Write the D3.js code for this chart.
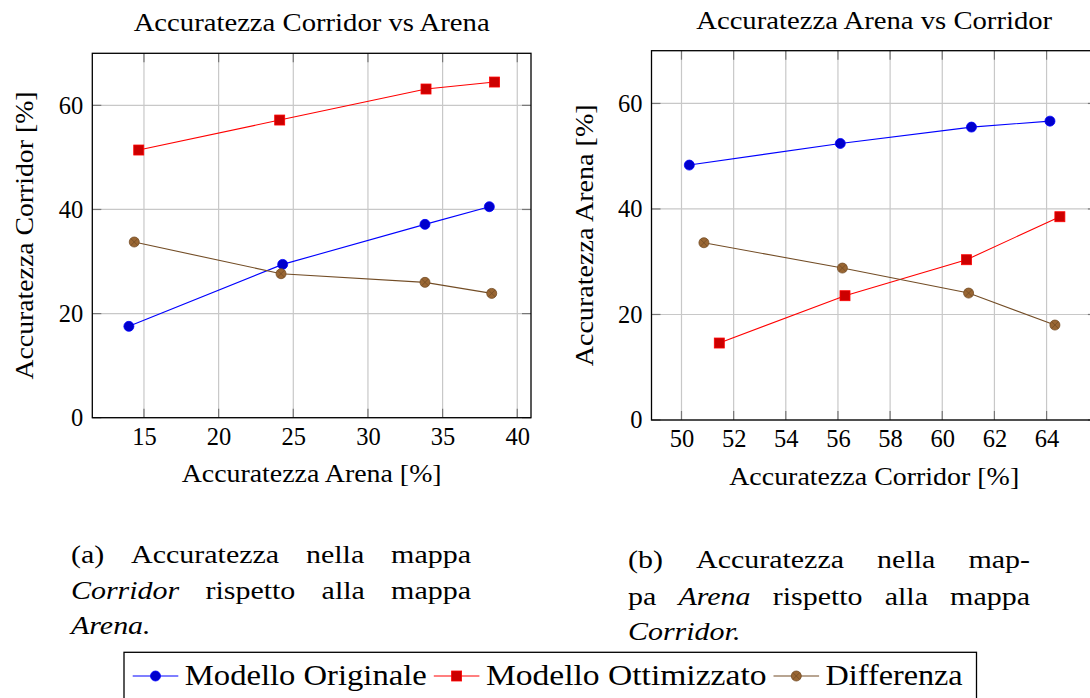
<!DOCTYPE html>
<html>
<head>
<meta charset="utf-8">
<script src="https://cdn.jsdelivr.net/npm/d3@7"></script>
<style>
  body { margin: 0; background: #fff; }
  svg { display: block; }
</style>
</head>
<body>
<svg width="1090" height="698"></svg>
<script>
// --- data ---
const seriesNames = ["Modello Originale", "Modello Ottimizzato", "Differenza"];

// (a) Corridor vs Arena
const aOrigX = [13.99, 24.29, 33.82, 38.13];
const aOrigY = [17.55, 29.45, 37.14, 40.53];
const aOptX  = [14.65, 24.09, 33.89, 38.48];
const aOptY  = [51.42, 57.18, 63.14, 64.48];
const aDiffX = [14.35, 24.18, 33.82, 38.29];
const aDiffY = [33.75, 27.66, 26.00, 23.88];
const aTicksX = [15, 20, 25, 30, 35, 40];

// (b) Arena vs Corridor
const bOrigX = [50.30, 56.09, 61.12, 64.13];
const bOrigY = [48.32, 52.42, 55.52, 56.65];
const bOptX  = [51.45, 56.27, 60.93, 64.51];
const bOptY  = [14.59, 23.56, 30.38, 38.53];
const bDiffX = [50.86, 56.17, 61.01, 64.32];
const bDiffY = [33.60, 28.80, 24.06, 18.00];
const bTicksX = [50, 52, 54, 56, 58, 60, 62, 64];

const yTicks = [0, 20, 40, 60];

const svg = d3.select('svg');

// pick the first serif face that is really installed
function hasFont(name) {
  const t = svg.append('text').attr('font-size', 40).text('mmmwwwiiilll AaQg 0123');
  t.attr('font-family', 'monospace');
  const a = t.node().getComputedTextLength();
  t.attr('font-family', `"${name}", monospace`);
  const b = t.node().getComputedTextLength();
  t.remove();
  return Math.abs(a - b) > 0.5;
}
const serifCandidates = ['Liberation Serif', 'DejaVu Serif', 'Tinos', 'Nimbus Roman', 'FreeSerif', 'Noto Serif', 'Times New Roman'];
const found = serifCandidates.find(hasFont);
const FONT = found ? `"${found}", serif` : 'serif';

const styles = [
  {line: '#0000ff', fill: '#0000cc', stroke: '#0000ff', mark: 'circle'},
  {line: '#ff0000', fill: '#cc0000', stroke: '#ff0000', mark: 'square'},
  {line: '#734d26', fill: '#996633', stroke: '#734d26', mark: 'otimes'}
];

function zip(xs, ys) { return xs.map((v, i) => [v, ys[i]]); }

function drawMark(g, st, cx, cy) {
  if (st.mark === 'circle') {
    g.append('circle').attr('cx', cx).attr('cy', cy).attr('r', 5)
      .attr('fill', st.fill).attr('stroke', st.stroke).attr('stroke-width', 0.8);
  } else if (st.mark === 'square') {
    g.append('rect').attr('x', cx - 5).attr('y', cy - 5).attr('width', 10).attr('height', 10)
      .attr('fill', st.fill).attr('stroke', st.stroke).attr('stroke-width', 0.8);
  } else {
    g.append('circle').attr('cx', cx).attr('cy', cy).attr('r', 5)
      .attr('fill', st.fill).attr('stroke', st.stroke).attr('stroke-width', 0.8);
    const d = 3.5;
    g.append('path')
      .attr('d', `M${cx - d},${cy - d}L${cx + d},${cy + d}M${cx - d},${cy + d}L${cx + d},${cy - d}`)
      .attr('stroke', st.stroke).attr('stroke-width', 0.8);
  }
}

function txt(sel) { return sel.attr('font-family', FONT).attr('fill', '#000'); }

function panel(o) {
  const x = d3.scaleLinear().domain(o.xDomain).range([o.left, o.right]);
  const y = d3.scaleLinear().domain([0, 70]).range([o.bottom, o.top]);
  const g = svg.append('g');

  // grid
  g.append('g').selectAll('line').data(o.xTicks).join('line')
    .attr('x1', d => x(d)).attr('x2', d => x(d))
    .attr('y1', o.top).attr('y2', o.bottom)
    .attr('stroke', '#c8c8c8').attr('stroke-width', 1.2);
  g.append('g').selectAll('line').data(yTicks).join('line')
    .attr('y1', d => y(d)).attr('y2', d => y(d))
    .attr('x1', o.left).attr('x2', o.right)
    .attr('stroke', '#c8c8c8').attr('stroke-width', 1.2);

  // inner ticks on all four sides
  const tl = 9;
  const tk = g.append('g').attr('stroke', '#777').attr('stroke-width', 1.2);
  o.xTicks.forEach(d => {
    tk.append('line').attr('x1', x(d)).attr('x2', x(d)).attr('y1', o.bottom).attr('y2', o.bottom - tl);
    tk.append('line').attr('x1', x(d)).attr('x2', x(d)).attr('y1', o.top).attr('y2', o.top + tl);
  });
  yTicks.forEach(d => {
    tk.append('line').attr('y1', y(d)).attr('y2', y(d)).attr('x1', o.left).attr('x2', o.left + tl);
    tk.append('line').attr('y1', y(d)).attr('y2', y(d)).attr('x1', o.right).attr('x2', o.right - tl);
  });

  // tick labels via d3 axes
  const ax = g.append('g').attr('transform', `translate(0,${o.bottom})`)
    .call(d3.axisBottom(x).tickValues(o.xTicks).tickSize(0).tickPadding(10));
  const ay = g.append('g').attr('transform', `translate(${o.left},0)`)
    .call(d3.axisLeft(y).tickValues(yTicks).tickSize(0).tickPadding(9));
  [ax, ay].forEach(a => {
    a.attr('font-family', FONT);
    a.select('.domain').remove();
    txt(a.selectAll('text')).attr('font-size', 24.5);
  });

  // frame
  g.append('rect').attr('x', o.left).attr('y', o.top)
    .attr('width', o.right - o.left).attr('height', o.bottom - o.top)
    .attr('fill', 'none').attr('stroke', '#000').attr('stroke-width', 1.3);

  // series
  const line = d3.line().x(d => x(d[0])).y(d => y(d[1]));
  o.series.forEach((pts, i) => {
    const st = styles[i];
    g.append('path').datum(pts).attr('d', line)
      .attr('fill', 'none').attr('stroke', st.line).attr('stroke-width', 1.1);
    const mg = g.append('g');
    pts.forEach(p => drawMark(mg, st, x(p[0]), y(p[1])));
  });

  const cx = (o.left + o.right) / 2, cy = (o.top + o.bottom) / 2;
  txt(g.append('text')).attr('x', cx).attr('y', o.top - 22).attr('text-anchor', 'middle')
    .attr('font-size', 25).attr('textLength', o.titleW).attr('lengthAdjust', 'spacingAndGlyphs')
    .text(o.title);
  txt(g.append('text')).attr('x', cx).attr('y', o.bottom + 64.5).attr('text-anchor', 'middle')
    .attr('font-size', 25).attr('textLength', o.xLabelW).attr('lengthAdjust', 'spacingAndGlyphs')
    .text(o.xLabel);
  txt(g.append('text')).attr('transform', `translate(${o.left - 59},${cy}) rotate(-90)`)
    .attr('text-anchor', 'middle')
    .attr('font-size', 25).attr('textLength', o.yLabelW).attr('lengthAdjust', 'spacingAndGlyphs')
    .text(o.yLabel);
}

panel({
  left: 92.3, right: 531, top: 53.3, bottom: 417.7,
  xDomain: [11.54, 40.92], xTicks: aTicksX,
  series: [zip(aOrigX, aOrigY), zip(aOptX, aOptY), zip(aDiffX, aDiffY)],
  title: 'Accuratezza Corridor vs Arena', titleW: 356,
  xLabel: 'Accuratezza Arena [%]', xLabelW: 260,
  yLabel: 'Accuratezza Corridor [%]', yLabelW: 288
});

panel({
  left: 651.5, right: 1096.9, top: 50.7, bottom: 420,
  xDomain: [48.85, 65.93], xTicks: bTicksX,
  series: [zip(bOrigX, bOrigY), zip(bOptX, bOptY), zip(bDiffX, bDiffY)],
  title: 'Accuratezza Arena vs Corridor', titleW: 356,
  xLabel: 'Accuratezza Corridor [%]', xLabelW: 290,
  yLabel: 'Accuratezza Arena [%]', yLabelW: 262
});

// --- captions (justified) ---
function naturalWidth(w) {
  const t = txt(svg.append('text')).attr('font-size', 25).style('font-style', w.i ? 'italic' : 'normal').text(w.t);
  const v = t.node().getComputedTextLength();
  t.remove();
  return v;
}
// scale words so that "Accuratezza" is as wide as in the reference
const stretch = 148 / naturalWidth({t: 'Accuratezza', i: false});

function captionLine(words, x0, x1, base, justify) {
  const ws = words.map(w => naturalWidth(w) * stretch);
  const total = d3.sum(ws);
  const gap = justify ? (x1 - x0 - total) / (words.length - 1) : 8;
  let cx = x0;
  words.forEach((w, i) => {
    txt(svg.append('text')).attr('x', cx).attr('y', base).attr('font-size', 25)
      .style('font-style', w.i ? 'italic' : 'normal')
      .attr('textLength', ws[i]).attr('lengthAdjust', 'spacingAndGlyphs')
      .text(w.t);
    cx += ws[i] + gap;
  });
}
const W = (t, i) => ({t, i: !!i});

captionLine([W('(a)'), W('Accuratezza'), W('nella'), W('mappa')], 71, 471, 562.7, true);
captionLine([W('Corridor', 1), W('rispetto'), W('alla'), W('mappa')], 71, 471, 599, true);
captionLine([W('Arena.', 1)], 71, 471, 634.3, false);

captionLine([W('(b)'), W('Accuratezza'), W('nella'), W('map-')], 628, 1030, 568.3, true);
captionLine([W('pa'), W('Arena', 1), W('rispetto'), W('alla'), W('mappa')], 628, 1030, 605, true);
captionLine([W('Corridor.', 1)], 628, 1030, 640, false);

// --- legend ---
const lg = svg.append('g');
lg.append('rect').attr('x', 124).attr('y', 652.3).attr('width', 852.5).attr('height', 70)
  .attr('fill', '#fff').attr('stroke', '#000').attr('stroke-width', 1.3);
const legendTextW = [242, 280.6, 137];
let lx = 132.7;
seriesNames.forEach((name, i) => {
  const st = styles[i];
  lg.append('line').attr('x1', lx).attr('x2', lx + 45.6).attr('y1', 676).attr('y2', 676)
    .attr('stroke', st.line).attr('stroke-width', 1.1);
  drawMark(lg, st, lx + 22.8, 676);
  lx += 45.6 + 6.5;
  txt(lg.append('text')).attr('x', lx).attr('y', 685).attr('font-size', 30)
    .attr('textLength', legendTextW[i]).attr('lengthAdjust', 'spacingAndGlyphs')
    .text(name);
  lx += legendTextW[i] + 7;
});
</script>
</body>
</html>
